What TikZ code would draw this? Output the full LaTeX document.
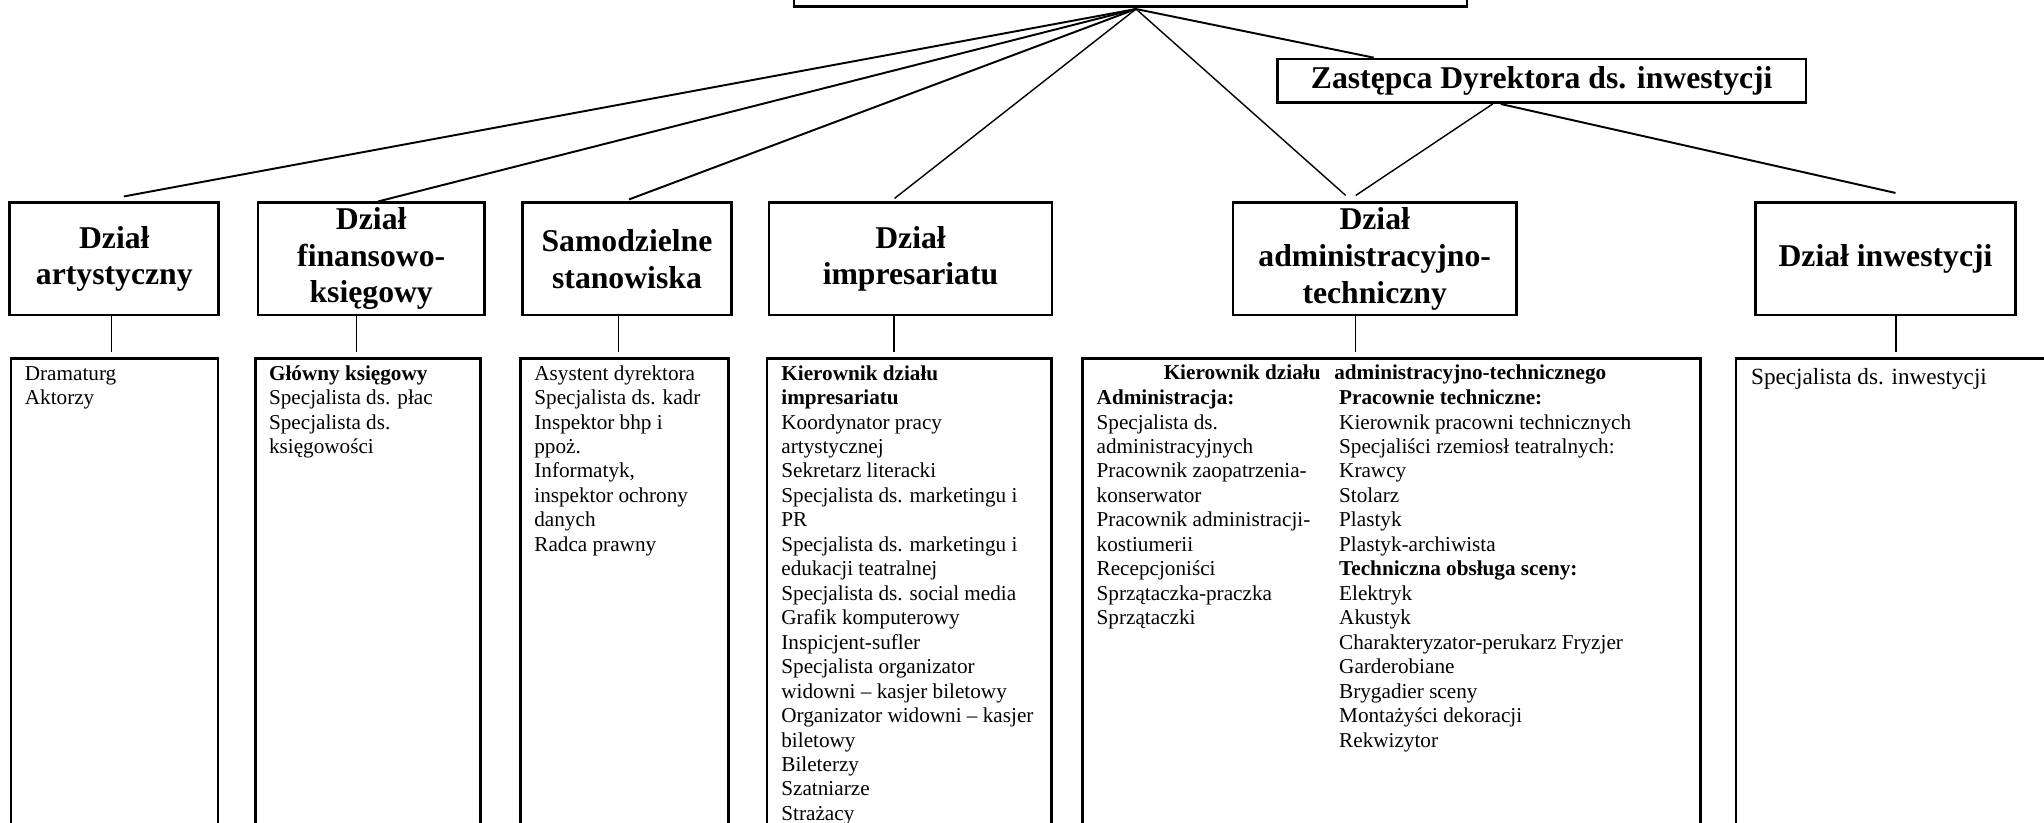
\documentclass[tikz,border=0pt]{standalone}
\usepackage{fontspec}
\setmainfont{Liberation Serif}
\usepackage{tikz}
\usetikzlibrary{positioning, calc}

\begin{document}
\begin{tikzpicture}[
  dept/.style={draw, line width=0.75pt, align=center, inner sep=0pt, minimum height=1.123cm,
    font=\fontsize{9.02}{10.39}\selectfont\bfseries},
  listbox/.style={draw, line width=0.75pt, anchor=north, minimum height=4.8cm, inner sep=0pt},
  items/.style={anchor=north west, inner sep=0pt, align=left, font=\fontsize{6.03}{6.96}\selectfont},
  fan/.style={line width=0.55pt},
  fanthin/.style={line width=0.4pt},
  drop/.style={line width=0.4pt}
]
\useasboundingbox (0,0) rectangle (20.44,-8.22);
\clip (0,0) rectangle (20.44,-8.22);

% top level
\node[draw, line width=0.75pt, minimum width=6.73cm, minimum height=1cm, anchor=south] (dyr) at (11.305,-0.08) {};
\coordinate (hub) at ([xshift=0.55mm,yshift=-0.1mm]dyr.south);
\node[dept, minimum width=5.286cm, minimum height=0.437cm] (zast) at (15.417,-0.808) {Zastępca Dyrektora ds. inwestycji};

% departments
\node[dept, minimum width=2.09cm] (art) at (1.143,-2.589) {Dział\\artystyczny};
\node[dept, minimum width=2.264cm] (fin) at (3.712,-2.589) {Dział\\finansowo-\\księgowy};
\node[dept, minimum width=2.093cm] (sam) at (6.27,-2.589) {Samodzielne\\stanowiska};
\node[dept, minimum width=2.83cm] (imp) at (9.105,-2.589) {Dział\\impresariatu};
\node[dept, minimum width=2.833cm] (adm) at (13.747,-2.589) {Dział\\administracyjno-\\techniczny};
\node[dept, minimum width=2.596cm] (inw) at (18.855,-2.589) {Dział inwestycji};

\draw[fan] (hub) -- ([xshift=0.96mm,yshift=0.5mm]art.north);
\draw[fan] (hub) -- ([xshift=0.7mm]fin.north);
\draw[fan] (hub) -- ([xshift=0.2mm,yshift=0.2mm]sam.north);
\draw[fanthin] (hub) -- ([xshift=-1.6mm,yshift=0.3mm]imp.north);
\draw[fanthin] (hub) -- ([xshift=-2.9mm,yshift=0.6mm]adm.north);
\draw[fan] (hub) -- ([xshift=-16.8mm]zast.north);
\draw[fanthin] ([xshift=-4.9mm]zast.south) -- ([xshift=-1.9mm,yshift=0.6mm]adm.north);
\draw[fan] ([xshift=-4.1mm]zast.south) -- ([xshift=1mm,yshift=0.85mm]inw.north);

% staff boxes
\node[listbox, minimum width=2.07cm] (lart) at (1.145,-3.57) {};
\node[listbox, minimum width=2.252cm] (lfin) at (3.68,-3.57) {};
\node[listbox, minimum width=2.079cm] (lsam) at (6.2465,-3.57) {};
\node[listbox, minimum width=2.848cm] (limp) at (9.094,-3.57) {};
\node[listbox, minimum width=6.177cm] (ladm) at (13.9165,-3.57) {};
\node[listbox, minimum width=3.14cm] (linw) at (18.93,-3.57) {};

\foreach \d/\dx in {art/-0.26, fin/-1.47, sam/-0.85, imp/-1.65, adm/-1.91, inw/1.05}
  \draw[drop] ([xshift=\dx mm]\d.south) -- ++(0,-0.36);

\node[items] (tart) at ([xshift=1.45mm,yshift=-0.53mm]lart.north west) {\strut Dramaturg\\Aktorzy};
\node[items] (tfin) at ([xshift=1.43mm,yshift=-0.53mm]lfin.north west)
  {\strut\textbf{Główny księgowy}\\Specjalista ds. płac\\Specjalista ds.\\księgowości};
\node[items] (tsam) at ([xshift=1.43mm,yshift=-0.53mm]lsam.north west)
  {\strut Asystent dyrektora\\Specjalista ds. kadr\\Inspektor bhp i\\ppoż.\\Informatyk,\\inspektor ochrony\\danych\\Radca prawny};
\node[items] (timp) at ([xshift=1.5mm,yshift=-0.53mm]limp.north west)
  {\strut\textbf{Kierownik działu}\\\textbf{impresariatu}\\Koordynator pracy\\artystycznej\\Sekretarz literacki\\
   Specjalista ds. marketingu i\\PR\\Specjalista ds. marketingu i\\edukacji teatralnej\\
   Specjalista ds. social media\\Grafik komputerowy\\Inspicjent-sufler\\Specjalista organizator\\
   widowni – kasjer biletowy\\Organizator widowni – kasjer\\biletowy\\Bileterzy\\Szatniarze\\Strażacy};

\node[anchor=base, inner sep=0pt, font=\fontsize{6.03}{6.96}\selectfont\bfseries] (hadm) at (13.85,-3.793)
  {Kierownik działu\hspace{0.65em}administracyjno-technicznego};
\node[items] (tadm1) at ([xshift=1.45mm,yshift=-2.97mm]ladm.north west)
  {\strut\textbf{Administracja:}\\Specjalista ds.\\administracyjnych\\Pracownik zaopatrzenia-\\konserwator\\
   Pracownik administracji-\\kostiumerii\\Recepcjoniści\\Sprzątaczka-praczka\\Sprzątaczki};
\node[items] (tadm2) at ([xshift=25.7mm,yshift=-2.97mm]ladm.north west)
  {\strut\textbf{Pracownie techniczne:}\\Kierownik pracowni technicznych\\Specjaliści rzemiosł teatralnych:\\
   Krawcy\\Stolarz\\Plastyk\\Plastyk-archiwista\\\textbf{Techniczna obsługa sceny:}\\Elektryk\\Akustyk\\
   Charakteryzator-perukarz Fryzjer\\Garderobiane\\Brygadier sceny\\Montażyści dekoracji\\Rekwizytor};

\node[anchor=base west, inner sep=0pt, font=\fontsize{6.6}{7.6}\selectfont] (tinw) at ([xshift=1.57mm,yshift=-2.75mm]linw.north west)
  {Specjalista ds. inwestycji};
\end{tikzpicture}
\end{document}
